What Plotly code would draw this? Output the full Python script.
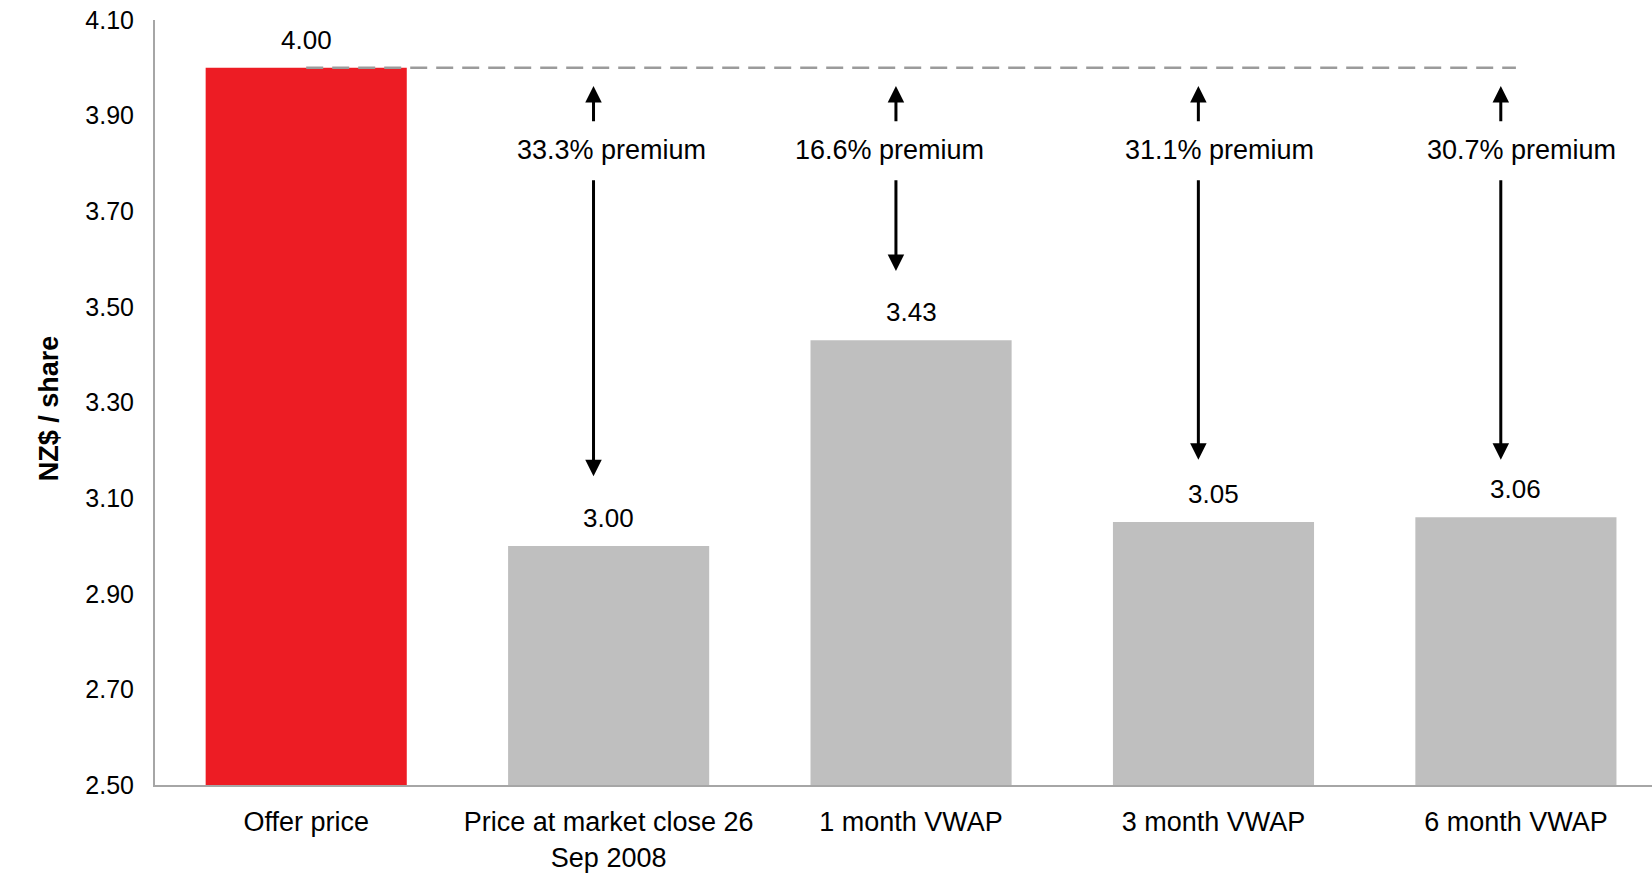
import plotly.graph_objects as go

categories = ["Offer price", "Price at market close 26<br>Sep 2008", "1 month VWAP", "3 month VWAP", "6 month VWAP"]
prices = [4.00, 3.00, 3.43, 3.05, 3.06]
bar_colors = ["#ED1C24", "#BFBFBF", "#BFBFBF", "#BFBFBF", "#BFBFBF"]
premium_labels = ["33.3% premium", "16.6% premium", "31.1% premium", "30.7% premium"]
y_ticks = [2.50, 2.70, 2.90, 3.10, 3.30, 3.50, 3.70, 3.90, 4.10]

FONT = "Liberation Sans, Arial, sans-serif"
FS_TEXT = 27
FS_VAL = 26
FS_YT = 25

x_idx = list(range(len(categories)))
offer = prices[0]

fig = go.Figure()
fig.add_trace(go.Bar(x=x_idx, y=[p - 2.5 for p in prices], base=2.5, width=0.665,
                     marker=dict(color=bar_colors, line=dict(width=0)), showlegend=False,
                     hoverinfo="skip"))
# dashed offer-price reference line
fig.add_trace(go.Scatter(x=[x_idx[0], x_idx[-1]], y=[offer, offer], mode="lines",
                         line=dict(color="#9B9B9B", width=2.5, dash="17px,9px"),
                         showlegend=False, hoverinfo="skip"))

annotations = []
# value labels
for i, p in enumerate(prices):
    annotations.append(dict(x=i, y=p, xref="x", yref="y", text=f"{p:.2f}", showarrow=False,
                            yanchor="middle", yshift=28, font=dict(family=FONT, size=FS_VAL, color="#000")))

# premium arrows and labels
arrow_dx = -0.05
text_dx = [0.009, -0.072, 0.019, 0.018]
up_tail, up_tip = 3.885, 3.962
down_tail = 3.768
down_tips = [3.146, 3.575, 3.18, 3.18]
label_y = 3.828
for k, lab in enumerate(premium_labels):
    i = k + 1
    xa = i + arrow_dx
    annotations.append(dict(x=xa, y=up_tip, ax=xa, ay=up_tail, xref="x", yref="y", axref="x", ayref="y",
                            showarrow=True, arrowhead=2, arrowsize=1.1, arrowwidth=3, arrowcolor="#000",
                            standoff=0, startstandoff=0, text=""))
    annotations.append(dict(x=xa, y=down_tips[k], ax=xa, ay=down_tail, xref="x", yref="y", axref="x", ayref="y",
                            showarrow=True, arrowhead=2, arrowsize=1.1, arrowwidth=3, arrowcolor="#000",
                            standoff=0, startstandoff=0, text=""))
    annotations.append(dict(x=i + text_dx[k], y=label_y, xref="x", yref="y", text=lab, showarrow=False,
                            yanchor="middle", font=dict(family=FONT, size=FS_TEXT, color="#000")))

# y-axis title
annotations.append(dict(x=-0.0825, y=0.493, xref="paper", yref="paper", text="<b>NZ$ / share</b>",
                        textangle=-90, showarrow=False, font=dict(family=FONT, size=FS_TEXT, color="#000")))

fig.update_layout(
    width=1652, height=874,
    margin=dict(l=155, r=0, t=20, b=89, autoexpand=False),
    paper_bgcolor="white", plot_bgcolor="white",
    font=dict(family=FONT, size=FS_TEXT, color="#000"),
    annotations=annotations,
    xaxis=dict(range=[-0.5, 4.45], tickvals=x_idx, ticktext=categories, showgrid=False, zeroline=False,
               showline=True, linecolor="#A6A6A6", linewidth=2, ticks="", ticklabelstandoff=12,
               automargin=False, tickfont=dict(family=FONT, size=FS_TEXT, color="#000")),
    yaxis=dict(range=[2.5, 4.1], tickvals=y_ticks, ticktext=[f"{v:.2f}" for v in y_ticks],
               showgrid=False, zeroline=False, showline=True, linecolor="#A6A6A6", linewidth=2,
               automargin=False, ticks="", ticklabelstandoff=14,
               tickfont=dict(family=FONT, size=FS_YT, color="#000")),
)

fig.write_html("out.html")
